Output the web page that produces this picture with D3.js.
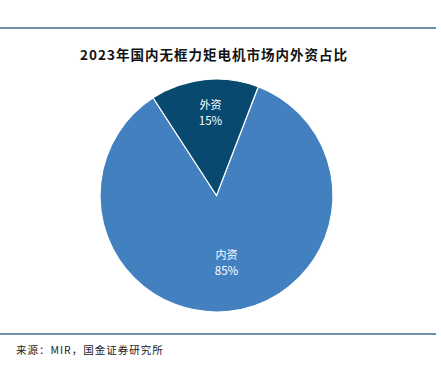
<!DOCTYPE html>
<html>
  <head>
    <style>
      body { margin: 0; background: #fff; }
      text { font-family: "Noto Sans CJK SC", "Noto Sans", sans-serif; }
    </style>
    <script src="https://d3js.org/d3.v7.min.js"></script>
  </head>
  <body>
    <svg class="chart"></svg>

    <script>
      const categories = ['内资', '外资'];
      const shares = [85, 15];
      const colors = ['#4280bf', '#07496f'];

      const width = 441;
      const height = 365;
      const cx = 216.5;
      const cy = 195.5;
      const radius = 116.5;

      const svg = d3.select('svg')
        .attr('width', width)
        .attr('height', height);

      // rules top and bottom
      svg.append('line')
        .attr('x1', 0).attr('x2', 436).attr('y1', 28).attr('y2', 28)
        .attr('stroke', '#3f6e8c').attr('stroke-width', 1.5);
      svg.append('line')
        .attr('x1', 0).attr('x2', 436).attr('y1', 334).attr('y2', 334)
        .attr('stroke', '#3f6e8c').attr('stroke-width', 1.5);

      svg.append('text')
        .attr('x', 214).attr('y', 60)
        .attr('text-anchor', 'middle')
        .attr('font-size', 13.5)
        .attr('font-weight', 'bold')
        .attr('letter-spacing', 1)
        .attr('fill', '#111')
        .text('2023年国内无框力矩电机市场内外资占比');

      svg.append('text')
        .attr('x', 16).attr('y', 354)
        .attr('font-size', 10.5)
        .attr('letter-spacing', 1)
        .attr('fill', '#222')
        .text('来源：MIR，国金证券研究所');

      const data = categories.map((c, i) => ({ name: c, value: shares[i], color: colors[i] }));

      const pie = d3.pie()
        .sort(null)
        .value(d => d.value)
        .startAngle(21 * Math.PI / 180)
        .endAngle(21 * Math.PI / 180 + 2 * Math.PI);

      const arc = d3.arc().innerRadius(0).outerRadius(radius);

      const g = svg.append('g').attr('transform', `translate(${cx},${cy})`);

      const arcs = pie(data);

      g.selectAll('path')
        .data(arcs)
        .join('path')
        .attr('d', arc)
        .attr('fill', d => d.data.color)
        .attr('stroke', '#fff')
        .attr('stroke-width', 1.2);

      const labelPos = d => {
        if (d.data.name === '外资') return [-6, -87];
        return [10, 63];
      };

      const labels = g.selectAll('g.label')
        .data(arcs)
        .join('g')
        .attr('class', 'label')
        .attr('transform', d => `translate(${labelPos(d)})`);

      labels.append('text')
        .attr('text-anchor', 'middle')
        .attr('font-size', 11)
        .attr('fill', '#fff')
        .text(d => d.data.name);

      labels.append('text')
        .attr('text-anchor', 'middle')
        .attr('y', 16)
        .attr('font-size', 11.5)
        .attr('fill', '#fff')
        .text(d => d.data.value + '%');
    </script>
  </body>
</html>
